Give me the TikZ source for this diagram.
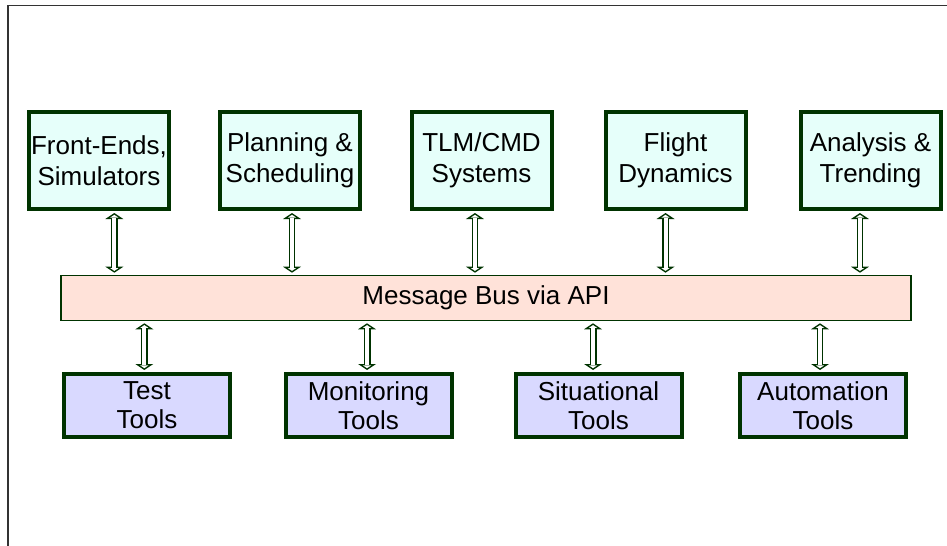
\documentclass[tikz,border=0pt]{standalone}
\usepackage{fontspec}
\setmainfont{Liberation Sans}
\usetikzlibrary{arrows.meta}

\definecolor{boxline}{RGB}{0,51,0}
\definecolor{topfill}{RGB}{230,255,250}
\definecolor{busfill}{RGB}{255,226,217}
\definecolor{toolfill}{RGB}{217,217,255}

\tikzset{every picture/.style={line width=0.75pt}}
\tikzset{
  topbox/.style={draw=boxline, fill=topfill, line width=3pt, minimum width=105pt, minimum height=72.75pt, align=center, inner sep=0pt, font=\fontsize{19.5}{23.25}\selectfont},
  toolbox/.style={draw=boxline, fill=toolfill, line width=3pt, minimum width=124.5pt, minimum height=47.25pt, align=center, inner sep=0pt, font=\fontsize{19.5}{21.5}\selectfont},
  busbox/.style={draw=boxline, fill=busfill, line width=1.2pt, minimum width=637.5pt, minimum height=33.75pt, inner sep=0pt, font=\fontsize{19.5}{21.5}\selectfont},
  outertip/.tip={Triangle[width=13.5pt,length=4.5pt,line width=0pt]},
  innertip/.tip={Triangle[width=6.2pt,length=2.1pt,line width=0pt]},
  busarrow/.style={draw=boxline, line width=5.2pt, {outertip}-{outertip}, shorten >=1.5pt, shorten <=1.5pt,
    postaction={draw=white, line width=3pt, {innertip}-{innertip}, shorten >=2.85pt, shorten <=2.85pt}}
}

\begin{document}
\begin{tikzpicture}[x=0.75pt,y=0.75pt,yscale=-1,xscale=1]
        \useasboundingbox (0,0) rectangle (947,546);

        %Frame
        \draw [color={rgb, 255:red, 51; green, 51; blue, 51 }, line width=1.1pt] (8,546) -- (8,5.5) -- (947,5.5);

        % Top systems
        \node (fe)   at (99,160.5)  [topbox] {Front-Ends,\\Simulators};
        \node (plan) at (290,160.5) [topbox] {Planning \&\\Scheduling};
        \node (tlm)  at (481.5,160.5) [topbox] {TLM/CMD\\Systems};
        \node (fd)   at (675.5,160.5) [topbox] {Flight\\Dynamics};
        \node (ana)  at (870.5,160.5) [topbox] {Analysis \&\\Trending};

        % Bus
        \node (bus) at (486,298) [busbox] {Message Bus via API};

        % Tools
        \node (test) at (147,405.5)   [toolbox] {Test\\Tools};
        \node (mon)  at (368.5,405.5) [toolbox] {Monitoring\\Tools};
        \node (sit)  at (598.5,405.5) [toolbox] {Situational\\Tools};
        \node (auto) at (823,405.5)   [toolbox] {Automation\\Tools};

        % Arrows to bus
        \draw [busarrow] ([xshift=11.5pt]fe.south) -- ([xshift=11.5pt]fe.south |- bus.north);
        \draw [busarrow] ([xshift=1.5pt]plan.south) -- ([xshift=1.5pt]plan.south |- bus.north);
        \draw [busarrow] ([xshift=-4.9pt]tlm.south) -- ([xshift=-4.9pt]tlm.south |- bus.north);
        \draw [busarrow] ([xshift=-7.5pt]fd.south) -- ([xshift=-7.5pt]fd.south |- bus.north);
        \draw [busarrow] ([xshift=-7.9pt]ana.south) -- ([xshift=-7.9pt]ana.south |- bus.north);

        % Arrows from bus
        \draw [busarrow] ([xshift=-2pt]test.north |- bus.south) -- ([xshift=-2pt]test.north);
        \draw [busarrow] ([xshift=-1.1pt]mon.north |- bus.south) -- ([xshift=-1.1pt]mon.north);
        \draw [busarrow] ([xshift=-4.1pt]sit.north |- bus.south) -- ([xshift=-4.1pt]sit.north);
        \draw [busarrow] ([xshift=-2.25pt]auto.north |- bus.south) -- ([xshift=-2.25pt]auto.north);

\end{tikzpicture}
\end{document}
